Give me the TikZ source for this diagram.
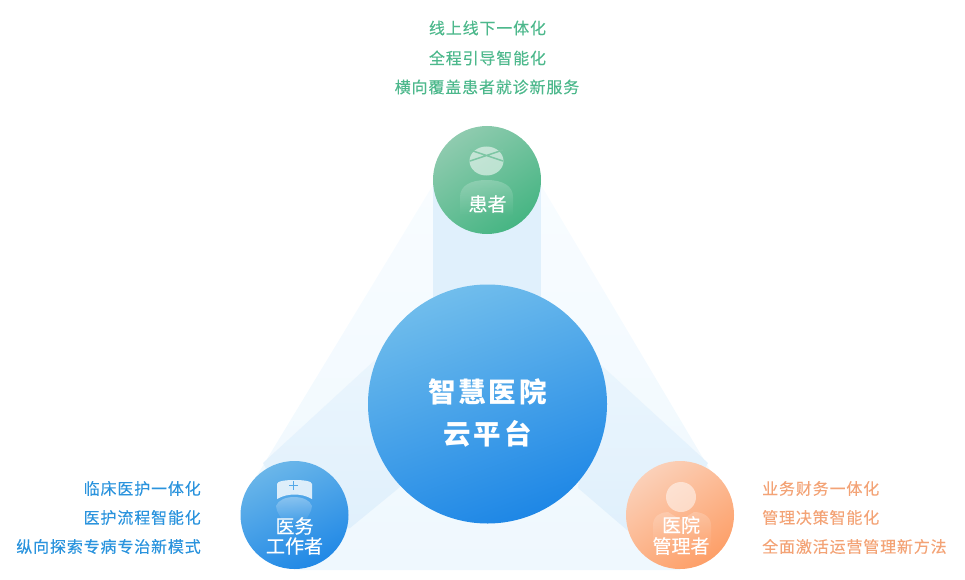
\documentclass[tikz,border=0pt]{standalone}
\usepackage{fontspec}
\usetikzlibrary{fadings}
\newfontfamily\cjk[LetterSpace=5.3,FakeBold=0.12]{Noto Sans CJK SC}
\newfontfamily\cjkrole[FakeBold=0.35]{Noto Sans CJK SC}
\newfontfamily\cjkmain[LetterSpace=10]{Noto Sans CJK SC}
\definecolor{greentxt}{HTML}{4DB88C}
\definecolor{bluetxt}{HTML}{2A93DD}
\definecolor{orangetxt}{HTML}{F3A376}
\definecolor{beamtop}{HTML}{F8FCFF}
\definecolor{beambot}{HTML}{EFF8FE}
\definecolor{band}{HTML}{E0F0FC}
\definecolor{bandpale}{HTML}{EAF5FD}
\definecolor{gA}{HTML}{8FCBAF}
\definecolor{gB}{HTML}{46B583}
\definecolor{bA}{HTML}{6AB6E9}
\definecolor{bB}{HTML}{2088E6}
\definecolor{oA}{HTML}{FBD0B8}
\definecolor{oB}{HTML}{FD9F68}
\definecolor{hA}{HTML}{70BDEC}
\definecolor{hB}{HTML}{1E87E6}
\tikzset{
  x=1pt,y=-1pt,
  orb/.style={circle,draw=none,inner sep=0pt,minimum size=108pt},
  greenorb/.style={orb,top color=gA,bottom color=gB,shading angle=35},
  blueorb/.style={orb,top color=bA,bottom color=bB,shading angle=25},
  orangeorb/.style={orb,top color=oA,bottom color=oB,shading angle=35},
  hub/.style={circle,draw=none,inner sep=0pt,minimum size=239pt,top color=hA,bottom color=hB,shading angle=20},
  note/.style={inner sep=0pt,font=\cjk\fontsize{16}{16}\selectfont},
  role/.style={inner sep=0pt,text=white,font=\cjkrole\fontsize{19}{19}\selectfont},
  hubtext/.style={inner sep=0pt,text=white,font=\cjkmain\bfseries\fontsize{27.5}{27.5}\selectfont},
}
\begin{document}
\begin{tikzpicture}
\useasboundingbox (0,0) rectangle (965,580);
% light triangle
\shade[top color=beamtop,bottom color=beambot] (433,185) -- (250,487) -- (294,570) -- (680,570) -- (716,480) -- (541,185) -- cycle;
% darker bands
\fill[band] (433,180) rectangle (541,310);
\shade[top color=bandpale,bottom color=band] (375,360) -- (263,463) -- (300,530) -- (350,528) -- (400,487) -- cycle;
\shade[top color=bandpale,bottom color=band] (601,365) -- (708,463) -- (670,530) -- (627,530) -- (578,488) -- cycle;
% circles
\node[hub] (hub) at (487.5,404) {};
\node[greenorb] (patient) at (487,180) {};
\node[blueorb] (staff) at (294.5,515) {};
\node[orangeorb] (admin) at (680,515) {};
% patient icon
\fill[white,opacity=.55] (486.5,161) ellipse [x radius=17,y radius=14.5];
\draw[gA!75!gB,line width=1.5pt] (470,150) -- (503,161) (503,150) -- (470,161);
\fill[white,opacity=.22,path fading=south] (460,216) -- (460,197) .. controls (460,186) and (470,180) .. (486.5,180) .. controls (503,180) and (513,186) .. (513,197) -- (513,216) -- cycle;
% nurse icon
\fill[white,opacity=.8] (277,484) .. controls (277,481) and (286,480) .. (294.5,480) .. controls (303,480) and (312,481) .. (312,484) -- (312,499) .. controls (302,493) and (287,493) .. (277,499) -- cycle;
\draw[bA!70!bB,line width=1.8pt] (293.5,481) -- (293.5,490) (289,485.5) -- (298,485.5);
\fill[white,opacity=.35,path fading=south] (276,506) .. controls (280,494) and (308,494) .. (312,506) .. controls (312,512) and (306,518) .. (304,524) -- (284,524) .. controls (282,518) and (276,512) .. (276,506) -- cycle;
% admin icon
\fill[white,opacity=.5] (681,497) circle [radius=15];
\fill[white,opacity=.2,path fading=south] (653,550) -- (653,525) .. controls (653,516) and (661,512) .. (668,512) -- (681,520) -- (694,512) .. controls (702,512) and (711,516) .. (711,525) -- (711,550) -- cycle;
% role text
\node[role] (patienttxt) at (487.5,204) {患者};
\node[role] (stafftxt1) at (294.5,526) {医务};
\node[role] (stafftxt2) at (294.5,546) {工作者};
\node[role] (admintxt1) at (681,525) {医院};
\node[role] (admintxt2) at (681,546) {管理者};
\node[hubtext] (hubtxt1) at (487.5,392) {智慧医院};
\node[hubtext] (hubtxt2) at (487.5,434) {云平台};
% side notes
\node[note,text=greentxt] (g1) at (487.5,28) {线上线下一体化};
\node[note,text=greentxt] (g2) at (487.5,58) {全程引导智能化};
\node[note,text=greentxt] (g3) at (487,87) {横向覆盖患者就诊新服务};
\node[note,text=bluetxt,anchor=east] (b1) at (201,488.5) {临床医护一体化};
\node[note,text=bluetxt,anchor=east] (b2) at (201,517.5) {医护流程智能化};
\node[note,text=bluetxt,anchor=east] (b3) at (201,546.5) {纵向探索专病专治新模式};
\node[note,text=orangetxt,anchor=west] (o1) at (762,488.5) {业务财务一体化};
\node[note,text=orangetxt,anchor=west] (o2) at (762,517.5) {管理决策智能化};
\node[note,text=orangetxt,anchor=west] (o3) at (762,546.5) {全面激活运营管理新方法};
\end{tikzpicture}
\end{document}
